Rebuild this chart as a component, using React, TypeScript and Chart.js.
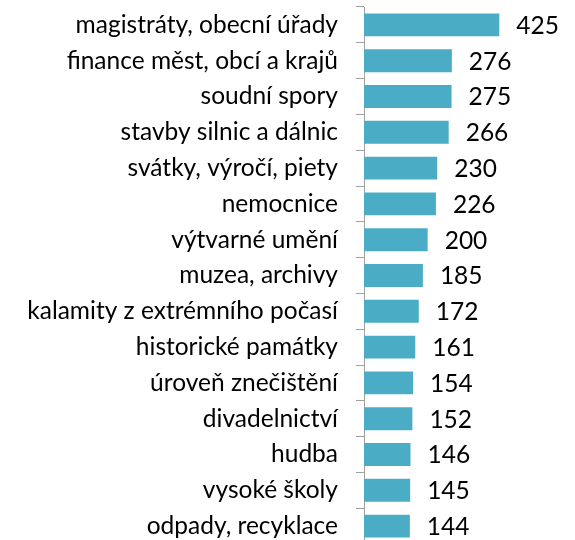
import React, { useEffect, useRef } from "react";
import { Chart, registerables } from "chart.js";

Chart.register(...registerables);

const categories: string[] = [
  "magistráty, obecní úřady",
  "finance měst, obcí a krajů",
  "soudní spory",
  "stavby silnic a dálnic",
  "svátky, výročí, piety",
  "nemocnice",
  "výtvarné umění",
  "muzea, archivy",
  "kalamity z extrémního počasí",
  "historické památky",
  "úroveň znečištění",
  "divadelnictví",
  "hudba",
  "vysoké školy",
  "odpady, recyklace",
];

const values: number[] = [425, 276, 275, 266, 230, 226, 200, 185, 172, 161, 154, 152, 146, 145, 144];

const FONT = "Lato";
const FONT_SIZE = 24.5;

const valueLabels = {
  id: "valueLabels",
  afterDatasetsDraw(chart: any) {
    const ctx = chart.ctx;
    const meta = chart.getDatasetMeta(0);
    ctx.save();
    ctx.font = `${FONT_SIZE}px ${FONT}`;
    ctx.fillStyle = "#000000";
    ctx.textAlign = "left";
    ctx.textBaseline = "middle";
    meta.data.forEach((bar: any, i: number) => {
      ctx.fillText(String(values[i]), bar.x + 17, bar.y + 1);
    });
    ctx.restore();
  },
};

export default function App() {
  const ref = useRef<HTMLCanvasElement | null>(null);

  useEffect(() => {
    if (!ref.current) return;
    const chart = new Chart(ref.current, {
      type: "bar",
      data: {
        labels: categories,
        datasets: [
          {
            data: values,
            backgroundColor: "#4bacc6",
            borderWidth: 0,
            categoryPercentage: 0.64,
            barPercentage: 1,
          },
        ],
      },
      options: {
        indexAxis: "y",
        responsive: false,
        animation: false,
        devicePixelRatio: 1,
        layout: { padding: { top: 7, bottom: 16, left: 0, right: 20 } },
        plugins: { legend: { display: false }, tooltip: { enabled: false } },
        scales: {
          x: {
            display: false,
            min: 0,
            max: 600,
          },
          y: {
            afterFit(scale: any) {
              scale.width = 364;
              scale.paddingTop = 0;
              scale.paddingBottom = 0;
            },
            grid: {
              display: true,
              drawOnChartArea: false,
              drawTicks: true,
              tickLength: 8,
              color: "#a0a0a0",
              offset: true,
            },
            border: { display: true, color: "#a0a0a0", width: 1 },
            ticks: {
              color: "#000000",
              padding: 18,
              autoSkip: false,
              font: { family: FONT, size: FONT_SIZE },
            },
          },
        },
      },
      plugins: [valueLabels],
    });
    return () => chart.destroy();
  }, []);

  return (
    <div style={{ position: "absolute", left: 0, top: 0, width: 575, height: 540, overflow: "hidden" }}>
      <canvas ref={ref} width={575} height={560} style={{ display: "block" }} />
    </div>
  );
}
